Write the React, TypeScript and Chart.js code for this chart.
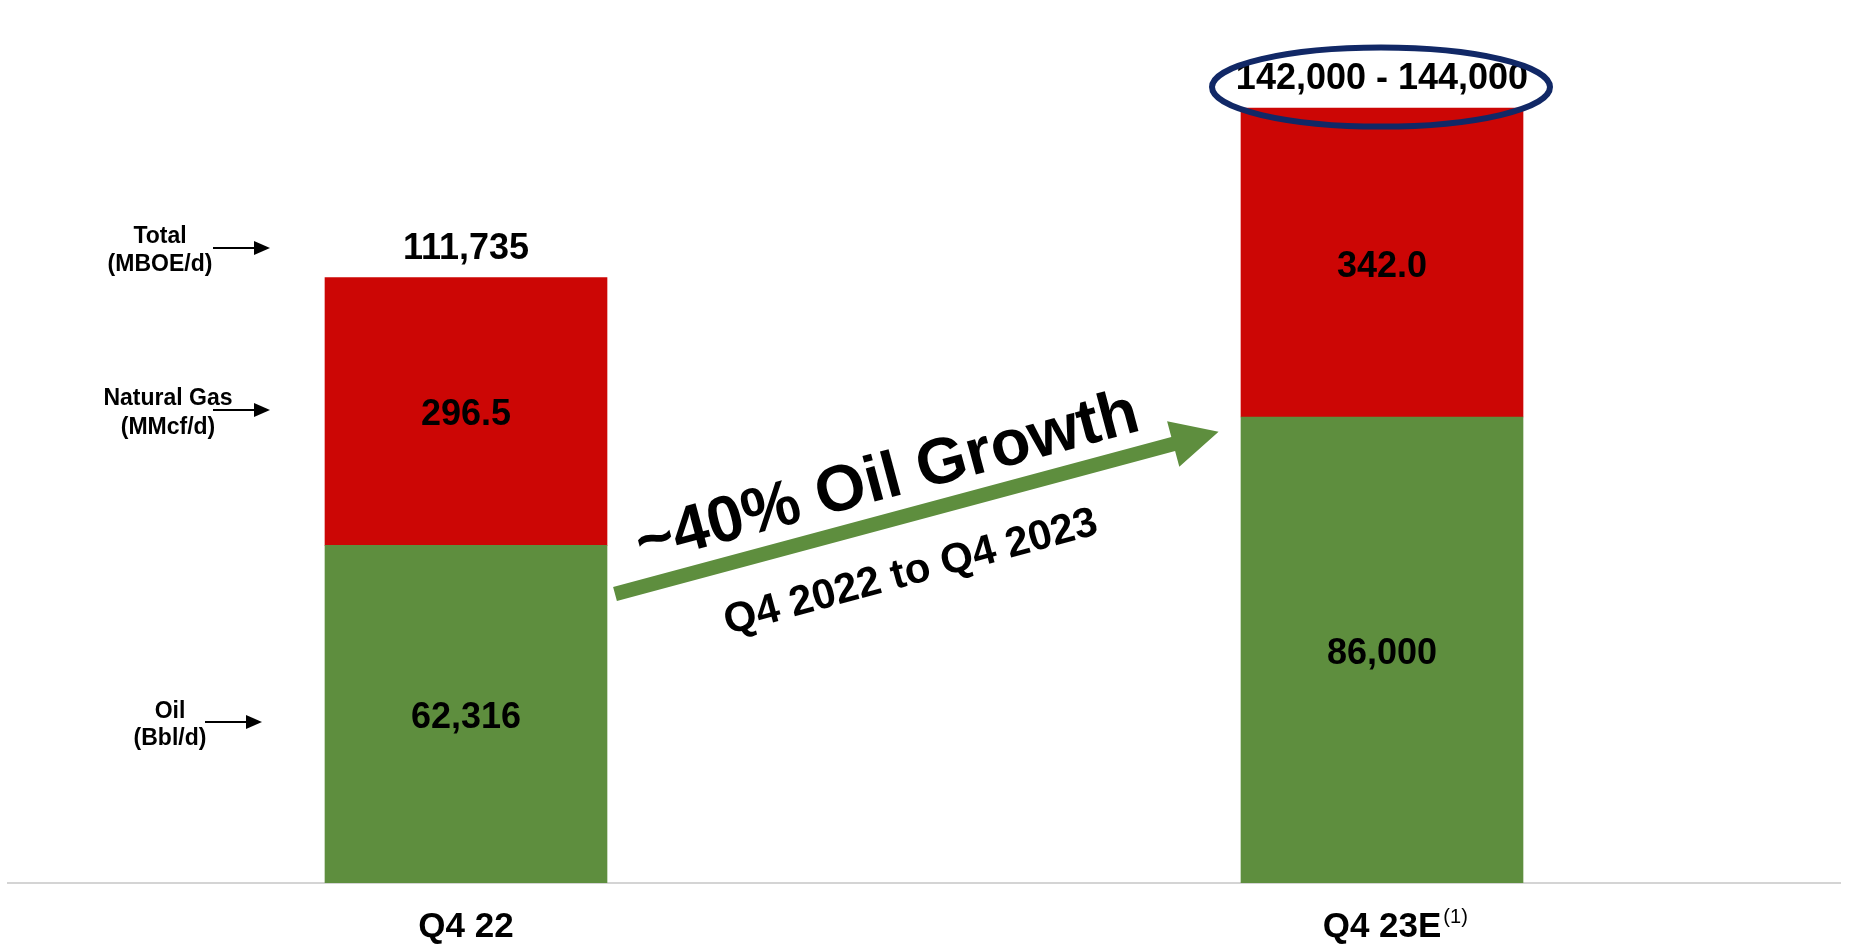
import React, { useEffect, useRef } from 'react';
import { Chart, registerables } from 'chart.js';

Chart.register(...registerables);

// ---- data ----
const categories = ['Q4 22', 'Q4 23E'];
const categoryNotes = ['', '(1)'];
const oilBbl = [62316, 86000];
const gasMMcf = [296.5, 342.0];
const totalLabels = ['111,735', '142,000 - 144,000'];
const highlightTotal = [false, true];
const growthTitle = '~40% Oil Growth';
const growthSubtitle = 'Q4 2022 to Q4 2023';
const sideLabelLines = [
  ['Total', '(MBOE/d)'],
  ['Natural Gas', '(MMcf/d)'],
  ['Oil', '(Bbl/d)'],
];
const yMax = 160000;

// gas converted to barrels of oil equivalent (6 Mcf = 1 BOE)
const gasBoe = gasMMcf.map((v) => (v * 1000) / 6);

const FONT = "'Liberation Sans', Arial, sans-serif";
const RED = '#CC0605';
const GREEN = '#5E8E3E';
const NAVY = '#112866';

const overlayPlugin = {
  id: 'overlay',
  afterDatasetsDraw(chart: any) {
    const ctx = chart.ctx;
    const oilMeta = chart.getDatasetMeta(0);
    const gasMeta = chart.getDatasetMeta(1);
    ctx.save();
    ctx.fillStyle = '#000';
    ctx.textAlign = 'center';
    ctx.textBaseline = 'alphabetic';
    ctx.font = `bold 36px ${FONT}`;
    categories.forEach((_, i) => {
      const ob = oilMeta.data[i];
      const gb = gasMeta.data[i];
      const oilMid = (ob.y + ob.base) / 2;
      const gasMid = (gb.y + gb.base) / 2;
      ctx.fillText(oilBbl[i].toLocaleString('en-US'), ob.x, oilMid + 14);
      ctx.fillText(gasMMcf[i].toFixed(1), gb.x, gasMid + 14);
      ctx.fillText(totalLabels[i], gb.x, gb.y - 19);
      if (highlightTotal[i]) {
        ctx.beginPath();
        ctx.ellipse(gb.x - 1, gb.y - 21, 169, 39.5, 0, 0, Math.PI * 2);
        ctx.lineWidth = 6;
        ctx.strokeStyle = NAVY;
        ctx.stroke();
      }
    });

    // x category labels
    const xs = chart.scales.x;
    const base = chart.chartArea.bottom + 54;
    categories.forEach((c, i) => {
      const x = xs.getPixelForValue(i);
      ctx.font = `bold 35px ${FONT}`;
      ctx.textAlign = 'center';
      ctx.fillText(c, x, base);
      if (categoryNotes[i]) {
        const w = ctx.measureText(c).width;
        ctx.font = `20px ${FONT}`;
        ctx.textAlign = 'left';
        ctx.fillText(categoryNotes[i], x + w / 2 + 2, base - 14);
      }
    });

    // side labels with arrows
    const sidePos = [
      { cx: 160, y1: 243, y2: 271, ax0: 213, ax1: 270, ay: 248 },
      { cx: 168, y1: 405, y2: 434, ax0: 213, ax1: 270, ay: 410 },
      { cx: 170, y1: 718, y2: 745, ax0: 205, ax1: 262, ay: 722 },
    ];
    ctx.textAlign = 'center';
    ctx.font = `bold 23px ${FONT}`;
    sideLabelLines.forEach((lines, i) => {
      const p = sidePos[i];
      ctx.fillStyle = '#000';
      ctx.fillText(lines[0], p.cx, p.y1);
      ctx.fillText(lines[1], p.cx, p.y2);
      ctx.strokeStyle = '#000';
      ctx.lineWidth = 2;
      ctx.beginPath();
      ctx.moveTo(p.ax0, p.ay);
      ctx.lineTo(p.ax1 - 12, p.ay);
      ctx.stroke();
      ctx.beginPath();
      ctx.moveTo(p.ax1, p.ay);
      ctx.lineTo(p.ax1 - 16, p.ay - 7);
      ctx.lineTo(p.ax1 - 16, p.ay + 7);
      ctx.closePath();
      ctx.fill();
    });

    // growth arrow
    const ang = (-15.04 * Math.PI) / 180;
    ctx.save();
    ctx.translate(615, 594);
    ctx.rotate(ang);
    ctx.fillStyle = GREEN;
    ctx.beginPath();
    ctx.moveTo(0, -7.3);
    ctx.lineTo(578, -7.3);
    ctx.lineTo(578, -23.5);
    ctx.lineTo(625, 0);
    ctx.lineTo(578, 23.5);
    ctx.lineTo(578, 7.3);
    ctx.lineTo(0, 7.3);
    ctx.closePath();
    ctx.fill();
    ctx.restore();

    // growth texts
    ctx.fillStyle = '#000';
    ctx.textAlign = 'center';
    ctx.save();
    ctx.translate(892, 497);
    ctx.rotate((-15 * Math.PI) / 180);
    ctx.font = `bold 65px ${FONT}`;
    ctx.fillText(growthTitle, 0, 0);
    ctx.restore();
    ctx.save();
    ctx.translate(914, 584);
    ctx.rotate((-15.2 * Math.PI) / 180);
    ctx.font = `bold 42px ${FONT}`;
    ctx.fillText(growthSubtitle, 0, 0);
    ctx.restore();

    ctx.restore();
  },
};

export default function App() {
  const ref = useRef<HTMLCanvasElement | null>(null);
  useEffect(() => {
    if (!ref.current) return;
    const chart = new Chart(ref.current, {
      type: 'bar',
      data: {
        labels: categories,
        datasets: [
          { label: 'Oil (Bbl/d)', data: oilBbl, backgroundColor: GREEN, barThickness: 282 },
          { label: 'Natural Gas (MBOE/d)', data: gasBoe, backgroundColor: RED, barThickness: 282 },
        ],
      },
      options: {
        responsive: false,
        animation: false,
        layout: { padding: { left: 8, right: 9, top: 16, bottom: 63 } },
        plugins: { legend: { display: false }, tooltip: { enabled: false } },
        scales: {
          x: {
            stacked: true,
            grid: { display: false, drawTicks: false },
            ticks: { display: false },
            border: { display: true, color: '#D4D4D4', width: 2 },
          },
          y: {
            stacked: true,
            display: false,
            min: 0,
            max: yMax,
          },
        },
      },
      plugins: [overlayPlugin],
    });
    return () => chart.destroy();
  }, []);
  return (
    <div style={{ position: 'fixed', left: 0, top: 0, width: 1849, height: 946, background: '#fff' }}>
      <canvas ref={ref} width={1849} height={946} style={{ display: 'block', width: 1849, height: 946 }} />
    </div>
  );
}
